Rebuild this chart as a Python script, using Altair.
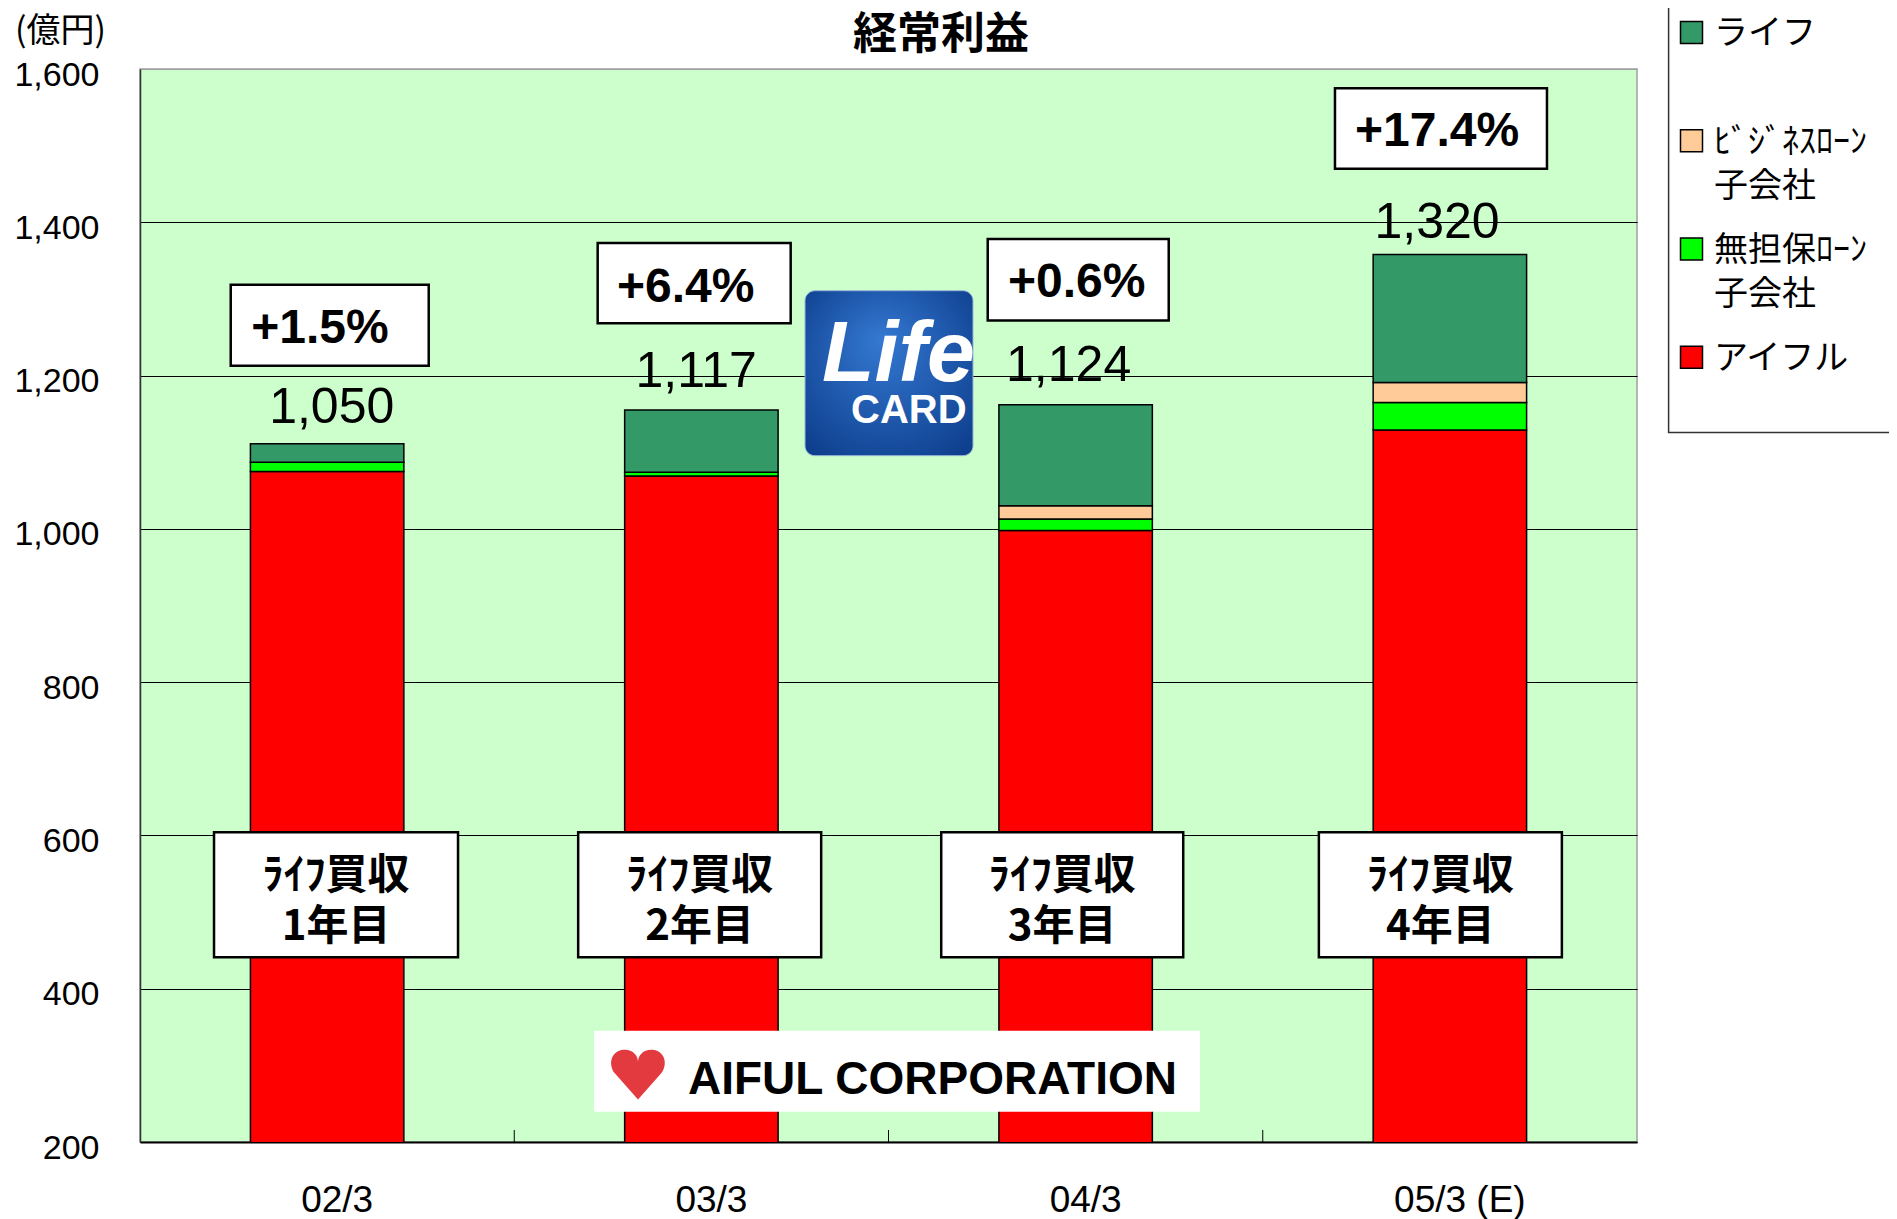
import altair as alt
import pandas as pd

# ---------------- data ----------------
CATEGORIES = ['02/3', '03/3', '04/3', '05/3 (E)']
SERIES = ['アイフル', '無担保ﾛｰﾝ子会社', 'ﾋﾞｼﾞﾈｽﾛｰﾝ子会社', 'ライフ']  # stacked bottom -> top
AIFUL = [1075, 1069, 998, 1129]
MUTANPO = [12, 5, 15, 36]
BUSINESS = [0, 0, 17, 26]
LIFE = [24, 81, 132, 167]
TOTAL_LABELS = [1050, 1117, 1124, 1320]
GROWTH = ['+1.5%', '+6.4%', '+0.6%', '+17.4%']
YEAR_LINE1 = ['ﾗｲﾌ買収', 'ﾗｲﾌ買収', 'ﾗｲﾌ買収', 'ﾗｲﾌ買収']
YEAR_LINE2 = ['1年目', '2年目', '3年目', '4年目']
LEGEND_LINE1 = ['ライフ', 'ﾋﾞｼﾞﾈｽﾛｰﾝ', '無担保ﾛｰﾝ', 'アイフル']
LEGEND_LINE2 = ['', '子会社', '子会社', '']
TITLE = '経常利益'
UNIT = '(億円)'
Y_TICKS = [200, 400, 600, 800, 1000, 1200, 1400, 1600]

# ---------------- styles / layout ----------------
SERIES_COLORS = ['#FF0000', '#00FF00', '#FFCC99', '#339966']
LEGEND_COLORS = ['#339966', '#FFCC99', '#00FF00', '#FF0000']
BG = '#CCFFCC'
W, H = 1497, 1073
NUM_FONT = 'Liberation Sans'
JP_FONT = 'Noto Sans CJK JP'

VAL_DX = [4.6, -5.2, -7.0, -12.8]
VAL_DY = [-21, -22.7, -23.3, -16.7]
PCT_BOX_DX = [2.6, -7.2, 2.6, -8.9]
PCT_BOX_W = [198, 193, 181, 212]
PCT_BOX_TOP = [-159, -167, -165.7, -166.3]
PCT_BOX_BOT = [-78, -86.7, -84.3, -85.7]
PCT_TXT_DX = [-7.1, -15.6, 1.1, -12.8]
PCT_TXT_DY = [-114.8, -122.2, -121.4, -122.2]
YR_BOX_DX = [8.9, -1.7, -13.4, -9.5]
YR_BOX_W = [244, 243, 242, 243]
YR_BOX_TOP, YR_BOX_BOT = 604, 441
YR_LINE1_V, YR_LINE2_V = 547, 480

# ---------------- tables ----------------
rows = []
for i, c in enumerate(CATEGORIES):
    for j, (s, vals) in enumerate(zip(SERIES, [AIFUL, MUTANPO, BUSINESS, LIFE])):
        rows.append({'cat': c, 'series': s, 'value': vals[i], 'order': j})
df_long = pd.DataFrame(rows)

df_tot = pd.DataFrame({
    'idx': list(range(4)),
    'cat': CATEGORIES,
    'top': [a + b + c + d for a, b, c, d in zip(AIFUL, MUTANPO, BUSINESS, LIFE)],
    'total': TOTAL_LABELS,
    'growth': GROWTH,
    'line1': YEAR_LINE1,
    'line2': YEAR_LINE2,
})

df_leg = pd.DataFrame({
    'lg': list(range(4)),
    'line1': LEGEND_LINE1,
    'line2': LEGEND_LINE2,
    'color': LEGEND_COLORS,
})
one = pd.DataFrame({'k': [0]})

x_scale = alt.Scale(domain=CATEGORIES, paddingInner=0, paddingOuter=0)
y_scale = alt.Scale(domain=[200, 1600], nice=False, zero=False)

x_axis = alt.Axis(title=None, labelAngle=0, labelFont=NUM_FONT, labelFontSize=37,
                  labelColor='black', labelPadding=40, labelOffset=10,
                  ticks=False, tickSize=0, domainColor='black', domainWidth=2,
                  grid=False)
y_axis = alt.Axis(title=None, values=Y_TICKS, format=',.0f', labelFont=NUM_FONT,
                  labelFontSize=34, labelColor='black', labelPadding=41,
                  labelOffset=6, ticks=False, tickSize=0, domainColor='#333333',
                  domainWidth=1.5, grid=True, gridWidth=1,
                  gridColor=alt.condition('datum.value == 1600', alt.value('#A0A0A0'), alt.value('black')))

bars = alt.Chart(df_long).mark_bar(
    stroke='black', strokeWidth=1.5, clip=True, width=alt.RelativeBandSize(0.41)
).encode(
    x=alt.X('cat:N', scale=x_scale, axis=x_axis),
    y=alt.Y('value:Q', stack='zero', scale=y_scale, axis=y_axis),
    color=alt.Color('series:N', scale=alt.Scale(domain=SERIES, range=SERIES_COLORS), legend=None),
    order=alt.Order('order:Q', sort='ascending'),
)

tick_rules = alt.Chart(df_tot).transform_filter('datum.idx > 0').mark_rule(
    color='black', strokeWidth=1
).encode(
    x=alt.X('cat:N', bandPosition=0),
    y=alt.value(H - 12), y2=alt.value(H),
)

ann = []
for i in range(4):
    base = alt.Chart(df_tot).transform_filter(f'datum.idx == {i}')
    # growth box
    ann.append(base.mark_bar(
        width=PCT_BOX_W[i], xOffset=PCT_BOX_DX[i], yOffset=PCT_BOX_TOP[i],
        y2Offset=PCT_BOX_BOT[i], fill='white', stroke='black', strokeWidth=2.5
    ).encode(x='cat:N', y='top:Q', y2='top:Q'))
    ann.append(base.mark_text(
        font=NUM_FONT, fontWeight='bold', fontSize=48, color='black',
        baseline='middle', dx=PCT_TXT_DX[i], dy=PCT_TXT_DY[i]
    ).encode(x='cat:N', y='top:Q', text='growth:N'))
    # total label
    ann.append(base.mark_text(
        font=NUM_FONT, fontSize=50, color='black', baseline='alphabetic',
        dx=VAL_DX[i], dy=VAL_DY[i]
    ).encode(x='cat:N', y='top:Q', text=alt.Text('total:Q', format=',')))
    # year box
    ann.append(base.mark_bar(
        width=YR_BOX_W[i], xOffset=YR_BOX_DX[i], fill='white', stroke='black',
        strokeWidth=2.5
    ).encode(x='cat:N', y=alt.datum(YR_BOX_TOP), y2=alt.datum(YR_BOX_BOT)))
    ann.append(base.mark_text(
        font=JP_FONT, fontWeight='bold', fontSize=42, color='black',
        baseline='middle', dx=YR_BOX_DX[i]
    ).encode(x='cat:N', y=alt.datum(YR_LINE1_V), text='line1:N'))
    ann.append(base.mark_text(
        font=JP_FONT, fontWeight='bold', fontSize=42, color='black',
        baseline='middle', dx=YR_BOX_DX[i]
    ).encode(x='cat:N', y=alt.datum(YR_LINE2_V), text='line2:N'))

title_txt = alt.Chart(one).mark_text(
    text=TITLE, font=JP_FONT, fontWeight='bold', fontSize=44, color='black',
    align='center', baseline='alphabetic'
).encode(x=alt.value(801), y=alt.value(-20))

unit_txt = alt.Chart(one).mark_text(
    text=UNIT, font=JP_FONT, fontSize=34, color='black', align='left',
    baseline='alphabetic'
).encode(x=alt.value(-125), y=alt.value(-27))

# Life card logo
card = alt.Chart(one).mark_rect(
    cornerRadius=10,
    fill=alt.RadialGradient(
        gradient='radial', x1=0.45, y1=0.3, r1=0, x2=0.5, y2=0.45, r2=0.75,
        stops=[alt.GradientStop(color='#3479D2', offset=0),
               alt.GradientStop(color='#0B3A88', offset=1)]),
    stroke='#9BB7D9', strokeWidth=1
).encode(x=alt.value(665), x2=alt.value(833), y=alt.value(221.7), y2=alt.value(386.7))
card_life = alt.Chart(one).mark_text(
    text='Life', font=NUM_FONT, fontStyle='italic', fontWeight='bold', fontSize=86,
    color='white', align='left', baseline='alphabetic'
).encode(x=alt.value(682), y=alt.value(312))
card_card = alt.Chart(one).mark_text(
    text='CARD', font=NUM_FONT, fontWeight='bold', fontSize=40, color='white',
    align='left', baseline='alphabetic'
).encode(x=alt.value(711), y=alt.value(354))

# AIFUL logo
HEART = ('M0,0.85 L-0.8,-0.05 C-1.05,-0.35 -0.95,-0.85 -0.5,-0.88 C-0.2,-0.9 0,-0.7 0,-0.45 '
         'C0,-0.7 0.2,-0.9 0.5,-0.88 C0.95,-0.85 1.05,-0.35 0.8,-0.05 Z')
aiful_box = alt.Chart(one).mark_rect(fill='white').encode(
    x=alt.value(454), x2=alt.value(1060), y=alt.value(961.7), y2=alt.value(1042.7))
aiful_heart = alt.Chart(one).mark_point(
    shape=HEART, size=3300, filled=True, color='#E23A3F', opacity=1
).encode(x=alt.value(498), y=alt.value(1006))
aiful_txt = alt.Chart(one).mark_text(
    text='AIFUL CORPORATION', font=NUM_FONT,
    fontWeight='bold', fontSize=46, color='black', align='left', baseline='alphabetic'
).encode(x=alt.value(548), y=alt.value(1025))

main = alt.layer(bars, tick_rules, *ann, title_txt, unit_txt, card, card_life,
                 card_card, aiful_box, aiful_heart, aiful_txt)

# custom legend
lg_y = alt.Y('lg:Q', scale=alt.Scale(domain=[0, 3], range=[-36.6, 288.2]), axis=None)
leg_box = alt.Chart(one).mark_rect(fill='white', stroke='#333333', strokeWidth=1.5).encode(
    x=alt.value(1528.6), x2=alt.value(1900), y=alt.value(-100), y2=alt.value(363.4))
leg_sq = alt.Chart(df_leg).mark_square(size=484, stroke='black', strokeWidth=1.5, opacity=1).encode(
    x=alt.value(1551.5), y=lg_y, fill=alt.Fill('color:N', scale=None))
leg_t1 = alt.Chart(df_leg).mark_text(
    font=JP_FONT, fontSize=34, color='black', align='left', baseline='middle', dy=2
).encode(x=alt.value(1574), y=lg_y, text='line1:N')
leg_t2 = alt.Chart(df_leg).mark_text(
    font=JP_FONT, fontSize=34, color='black', align='left', baseline='middle', dy=46
).encode(x=alt.value(1574), y=lg_y, text='line2:N')
legend = alt.layer(leg_box, leg_sq, leg_t1, leg_t2)

chart = alt.layer(main, legend).resolve_scale(y='independent').properties(
    width=W, height=H,
    padding={'left': 132, 'top': 61, 'right': 252, 'bottom': 80},
    autosize=alt.AutoSizeParams(type='none'),
).configure_view(fill=BG, stroke='#A0A0A0', strokeWidth=1.5)

chart.save('out.html', embed_options={'renderer': 'svg', 'actions': False})
